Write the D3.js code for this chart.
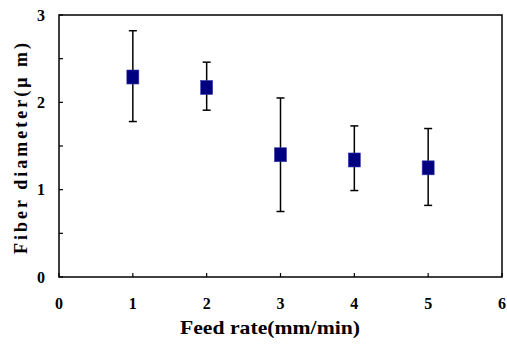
<!DOCTYPE html>
<html>
<head>
<meta charset="utf-8">
<script src="https://cdn.jsdelivr.net/npm/d3@7"></script>
<style>
  body { margin: 0; background: #fff; }
  text { font-family: "Liberation Serif", "DejaVu Serif", serif; }
</style>
</head>
<body>
<svg id="chart" width="507" height="347"></svg>
<script>
const feedRates = [1, 2, 3, 4, 5];
const diameters = [2.29, 2.17, 1.40, 1.34, 1.25];
const errUpper = [2.82, 2.46, 2.05, 1.73, 1.70];
const errLower = [1.78, 1.91, 0.75, 0.99, 0.82];
const xTicks = [0, 1, 2, 3, 4, 5, 6];
const yTicks = [0, 1, 2, 3];
const yMinorTicks = [0.5, 1.5, 2.5];

const width = 507, height = 347;
const margin = { top: 15, right: 5, bottom: 70, left: 59 };

const svg = d3.select("#chart");
const x = d3.scaleLinear().domain([0, 6]).range([margin.left, width - margin.right]);
const y = d3.scaleLinear().domain([0, 3]).range([height - margin.bottom, margin.top]);

// frame
svg.append("rect")
  .attr("x", x(0)).attr("y", y(3))
  .attr("width", x(6) - x(0)).attr("height", y(0) - y(3))
  .attr("fill", "none").attr("stroke", "#000").attr("stroke-width", 1.5);

// y ticks (inside)
svg.append("g").selectAll("line")
  .data(yTicks.concat(yMinorTicks))
  .join("line")
  .attr("x1", x(0)).attr("x2", x(0) + 4)
  .attr("y1", d => y(d)).attr("y2", d => y(d))
  .attr("stroke", "#000").attr("stroke-width", 1.2);

svg.append("g").selectAll("text")
  .data(yTicks)
  .join("text")
  .attr("x", 45).attr("y", d => y(d))
  .attr("dy", "0.35em")
  .attr("text-anchor", "end")
  .attr("font-size", 16).attr("font-weight", "bold")
  .text(d => d);

// x ticks (inside)
svg.append("g").selectAll("line")
  .data(xTicks)
  .join("line")
  .attr("x1", d => x(d)).attr("x2", d => x(d))
  .attr("y1", y(0)).attr("y2", y(0) - 4)
  .attr("stroke", "#000").attr("stroke-width", 1.2);

svg.append("g").selectAll("text")
  .data(xTicks)
  .join("text")
  .attr("x", d => x(d)).attr("y", 309)
  .attr("text-anchor", "middle")
  .attr("font-size", 16).attr("font-weight", "bold")
  .text(d => d);

// axis titles
svg.append("text")
  .attr("x", 180).attr("y", 334)
  .attr("font-size", 19).attr("font-weight", "bold")
  .attr("textLength", 180).attr("lengthAdjust", "spacingAndGlyphs")
  .text("Feed rate(mm/min)");

svg.append("text")
  .attr("transform", `translate(27, 254) rotate(-90)`)
  .attr("font-size", 18).attr("font-weight", "bold")
  .attr("textLength", 211).attr("lengthAdjust", "spacing")
  .text("Fiber diameter(μ m)");

// error bars
const pts = feedRates.map((f, i) => ({ f, v: diameters[i], hi: errUpper[i], lo: errLower[i] }));
const eb = svg.append("g").attr("stroke", "#000").attr("stroke-width", 1.5);
eb.selectAll("line.v").data(pts).join("line").attr("class", "v")
  .attr("x1", d => x(d.f)).attr("x2", d => x(d.f))
  .attr("y1", d => y(d.hi)).attr("y2", d => y(d.lo));
eb.selectAll("line.t").data(pts).join("line").attr("class", "t")
  .attr("x1", d => x(d.f) - 4).attr("x2", d => x(d.f) + 4)
  .attr("y1", d => y(d.hi)).attr("y2", d => y(d.hi));
eb.selectAll("line.b").data(pts).join("line").attr("class", "b")
  .attr("x1", d => x(d.f) - 4).attr("x2", d => x(d.f) + 4)
  .attr("y1", d => y(d.lo)).attr("y2", d => y(d.lo));

// markers
svg.append("g").selectAll("rect")
  .data(pts)
  .join("rect")
  .attr("x", d => x(d.f) - 6).attr("y", d => y(d.v) - 7)
  .attr("width", 12).attr("height", 14)
  .attr("fill", "#000080").attr("stroke", "#3a3aa8").attr("stroke-width", 0.6);
</script>
</body>
</html>
